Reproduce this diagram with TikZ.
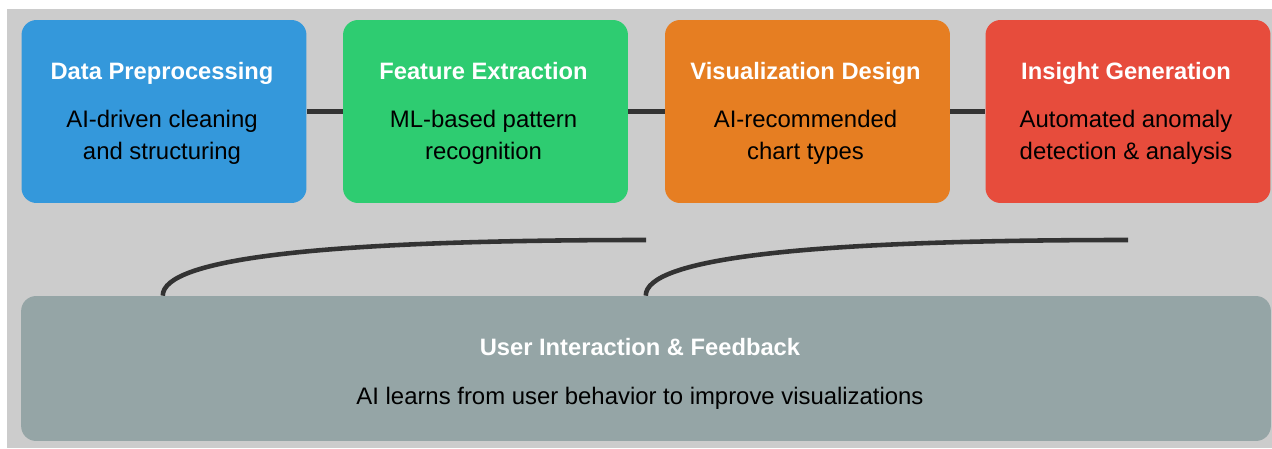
\documentclass[tikz,border=0pt]{standalone}
\usepackage{fontspec}
\setmainfont{Liberation Sans}
\usepackage{tikz}
\usetikzlibrary{positioning,calc}
\definecolor{pagebg}{HTML}{CCCCCC}
\definecolor{prepblue}{HTML}{3498DB}
\definecolor{featgreen}{HTML}{2ECC71}
\definecolor{visorange}{HTML}{E67E22}
\definecolor{insightred}{HTML}{E74C3C}
\definecolor{usergrey}{HTML}{95A5A6}
\definecolor{linkgrey}{HTML}{333333}

\begin{document}
\begin{tikzpicture}[
  x=0.02cm, y=-0.02cm,
  stage/.style={draw=none, rounded corners=0.3cm, inner sep=0pt,
                minimum width=5.7cm, minimum height=3.66cm},
  title/.style={anchor=base, text=white,
                font=\fontsize{13.5}{16}\selectfont\bfseries},
  body/.style={anchor=base, align=center, text=black,
               font=\fontsize{13.6}{18.1}\selectfont},
  link/.style={draw=linkgrey, line width=2.4pt},
  feedback/.style={draw=linkgrey, line width=2.6pt},
]
\useasboundingbox (0,0) rectangle (1272,449);
\fill[white] (0,0) rectangle (1272,449);
\fill[pagebg] (7,9) rectangle (1272,448);

\node[stage, fill=prepblue]   (s1) at (164,111.5) {};
\node[stage, fill=featgreen]  (s2) at (485.5,111.5) {};
\node[stage, fill=visorange]  (s3) at (807.5,111.5) {};
\node[stage, fill=insightred] (s4) at (1128,111.5) {};

\node[title] (t1) at ($(s1.north)+(-2,60)$) {Data Preprocessing};
\node[title] (t2) at ($(s2.north)+(-2,60)$) {Feature Extraction};
\node[title] (t3) at ($(s3.north)+(-2,60)$) {Visualization Design};
\node[title] (t4) at ($(s4.north)+(-2,60)$) {Insight Generation};

% base anchor sits on the last line
\node[body] (b1) at ($(s1.north)+(-2,140)$) {AI-driven cleaning\\and structuring};
\node[body] (b2) at ($(s2.north)+(-2,140)$) {ML-based pattern\\recognition};
\node[body] (b3) at ($(s3.north)+(-2,140)$) {AI-recommended\\chart types};
\node[body] (b4) at ($(s4.north)+(-2,140)$) {Automated anomaly\\detection \& analysis};

\foreach \a/\b in {s1/s2,s2/s3,s3/s4} { \draw[link] (\a.east) -- (\b.west); }

\node[stage, fill=usergrey, minimum width=25cm, minimum height=2.9cm]
  (user) at (646,368.5) {};
\node[title] (ut) at ($(user.north)+(-6,60)$) {User Interaction \& Feedback};
\node[body] (ub) at ($(user.north)+(-6,109)$)
  {AI learns from user behavior to improve visualizations};

\coordinate (f1) at ($(user.north west)+(142,0)$);
\coordinate (f2) at ($(user.north west)+(625,0)$);
\coordinate (e1) at (646,240);
\coordinate (e2) at (1128,240);
\draw[feedback] (f1) .. controls ($(f1)+(0,-37.3)$) and ($(e1)+(-322,0)$) .. (e1);
\draw[feedback] (f2) .. controls ($(f2)+(0,-37.3)$) and ($(e2)+(-322,0)$) .. (e2);
\end{tikzpicture}
\end{document}
